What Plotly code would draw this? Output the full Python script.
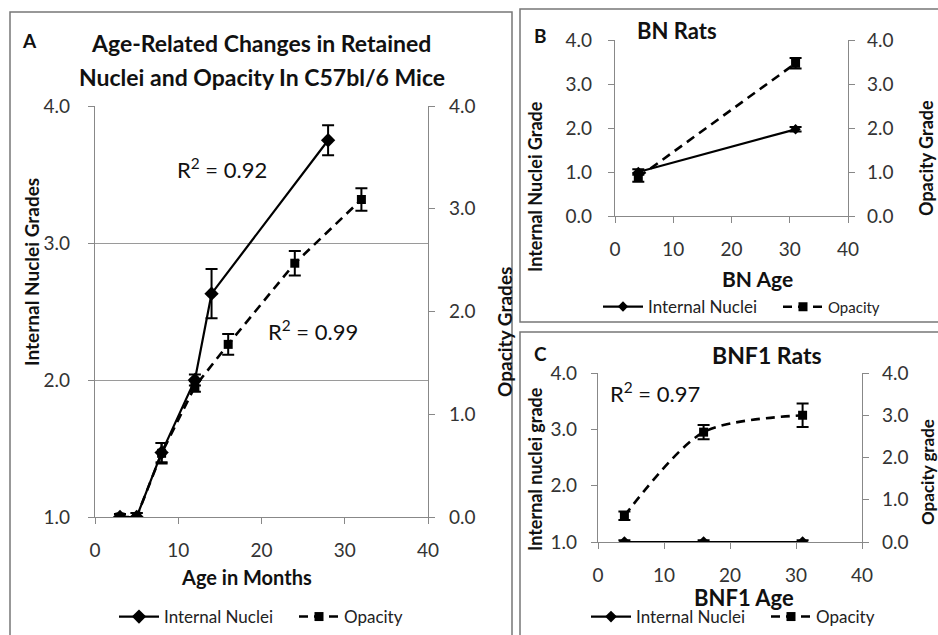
import plotly.graph_objects as go

W, H = 938, 635

# ---------------- data ----------------
# Panel A: C57bl/6 mice
a_age_nuclei = [3, 5, 8, 12, 14, 28]
a_nuclei = [1.0, 1.0, 1.47, 2.0, 2.63, 3.75]
a_nuclei_err = [0.02, 0.03, 0.07, 0.04, 0.18, 0.11]
a_age_opacity = [3, 5, 8, 12, 16, 24, 32]
a_opacity = [0.0, 0.0, 0.62, 1.27, 1.68, 2.47, 3.09]
a_opacity_err = [0.03, 0.04, 0.1, 0.05, 0.1, 0.12, 0.11]

# Panel B: BN rats
b_age = [4, 31]
b_nuclei = [1.0, 1.97]
b_nuclei_err = [0.06, 0.05]
b_opacity = [0.88, 3.47]
b_opacity_err = [0.1, 0.12]

# Panel C: BNF1 rats
c_age = [4, 16, 31]
c_nuclei = [1.0, 1.0, 1.0]
c_nuclei_err = [0.03, 0.03, 0.03]
c_opacity = [0.62, 2.6, 3.0]
c_opacity_err = [0.1, 0.17, 0.28]

y_ticks_left_a = [1.0, 2.0, 3.0, 4.0]
y_ticks_0_4 = [0.0, 1.0, 2.0, 3.0, 4.0]
x_ticks = [0, 10, 20, 30, 40]

FONT = "Lato, 'Open Sans', sans-serif"


def px(x):
    return x / W


def py(y):
    return 1 - y / H


fig = go.Figure()

line_solid = dict(color="black", width=2.2)
line_dash = dict(color="black", width=2.6, dash="9px,6px")


def err(vals):
    return dict(type="data", array=vals, visible=True, color="black", thickness=2, width=6)


# Panel A traces
fig.add_trace(go.Scatter(x=a_age_nuclei, y=a_nuclei, error_y=err(a_nuclei_err),
                         mode="lines+markers", name="Internal Nuclei",
                         line=line_solid, marker=dict(symbol="diamond", size=11, color="black"),
                         xaxis="x", yaxis="y", legend="legend"))
fig.add_trace(go.Scatter(x=a_age_opacity, y=a_opacity, error_y=err(a_opacity_err),
                         mode="lines+markers", name="Opacity",
                         line=line_dash, marker=dict(symbol="square", size=9, color="black"),
                         xaxis="x", yaxis="y2", legend="legend2"))

# Panel B traces
fig.add_trace(go.Scatter(x=b_age, y=b_nuclei, error_y=err(b_nuclei_err),
                         mode="lines+markers", name="Internal Nuclei",
                         line=line_solid, marker=dict(symbol="diamond", size=8, color="black"),
                         xaxis="x2", yaxis="y3", legend="legend3"))
fig.add_trace(go.Scatter(x=b_age, y=b_opacity, error_y=err(b_opacity_err),
                         mode="lines+markers", name="Opacity",
                         line=line_dash, marker=dict(symbol="square", size=9, color="black"),
                         xaxis="x2", yaxis="y4", legend="legend4"))

# Panel C traces
fig.add_trace(go.Scatter(x=c_age, y=c_nuclei, error_y=err(c_nuclei_err),
                         mode="lines+markers", name="Internal Nuclei",
                         line=line_solid, marker=dict(symbol="diamond", size=9, color="black"),
                         xaxis="x3", yaxis="y5", legend="legend5"))
fig.add_trace(go.Scatter(x=c_age, y=c_opacity, error_y=err(c_opacity_err),
                         mode="lines+markers", name="Opacity",
                         line=dict(color="black", width=2.6, dash="9px,6px", shape="spline", smoothing=0.8),
                         marker=dict(symbol="square", size=9, color="black"),
                         xaxis="x3", yaxis="y6", legend="legend6"))

tickfont = dict(family=FONT, size=19, color="#333")
axis_common = dict(showline=True, linecolor="#888", linewidth=1.2, ticks="outside",
                   ticklen=6, tickcolor="#888", tickfont=tickfont, zeroline=False,
                   fixedrange=True, automargin=False)


def xax(d0, d1, anchor):
    return dict(domain=[px(d0), px(d1)], range=[0, 40], tickvals=x_ticks, anchor=anchor,
                showgrid=False, ticklabelstandoff=10, **axis_common)


def yax(d_bottom, d_top, rng, ticks, anchor, side="left", overlaying=None, grid=False, standoff=12):
    d = dict(domain=[py(d_bottom), py(d_top)], range=rng, tickvals=ticks,
             ticktext=[f"{v:.1f}" for v in ticks], anchor=anchor, side=side,
             showgrid=grid, ticklabelstandoff=standoff, **axis_common)
    if grid:
        d.update(gridcolor="#9a9a9a", gridwidth=1)
    if overlaying:
        d["overlaying"] = overlaying
    return d


fig.update_layout(
    # Panel A: x 95-428, y 106-517
    xaxis=xax(95, 428, "y"),
    yaxis=yax(517, 106, [1, 4], y_ticks_left_a, "x", grid=True, standoff=14),
    yaxis2=yax(517, 106, [0, 4], y_ticks_0_4, "x", side="right", overlaying="y", standoff=10),
    # Panel B: x 615-848, y 40-216
    xaxis2=xax(615, 848, "y3"),
    yaxis3=yax(216, 40, [0, 4], y_ticks_0_4, "x2", standoff=12),
    yaxis4=yax(216, 40, [0, 4], y_ticks_0_4, "x2", side="right", overlaying="y3", standoff=8),
    # Panel C: x 598-862, y 373-542
    xaxis3=xax(598, 862, "y5"),
    yaxis5=yax(542, 373, [1, 4], y_ticks_left_a, "x3", standoff=10),
    yaxis6=yax(542, 373, [0, 4], y_ticks_0_4, "x3", side="right", overlaying="y5", standoff=9),
)


def leg(x, y, size=17):
    return dict(orientation="h", x=px(x - 7), y=py(y), xanchor="left", yanchor="middle",
                font=dict(family=FONT, size=size, color="#222"),
                bgcolor="rgba(0,0,0,0)", itemwidth=40)


fig.update_layout(
    legend=leg(121, 617),
    legend2=leg(301, 617),
    legend3=leg(605, 307),
    legend4=leg(785, 307, size=15),
    legend5=leg(593, 617),
    legend6=leg(773, 617),
)

# Panel boxes
box_line = dict(color="#777", width=1.5)
shapes = [
    dict(type="rect", xref="paper", yref="paper", x0=px(10), x1=px(512), y0=py(645), y1=py(12), line=box_line),
    dict(type="rect", xref="paper", yref="paper", x0=px(520), x1=px(950), y0=py(322), y1=py(9), line=box_line),
    dict(type="rect", xref="paper", yref="paper", x0=px(520), x1=px(950), y0=py(645), y1=py(332), line=box_line),
]


def ann(text, x, y, size, bold=False, angle=0, xanchor="center"):
    t = f"<b>{text}</b>" if bold else text
    return dict(text=t, x=px(x), y=py(y), xref="paper", yref="paper", showarrow=False,
                xanchor=xanchor, yanchor="middle", textangle=angle,
                font=dict(family=FONT, size=size, color="#111"))


annotations = [
    ann("A", 29, 40, 19, bold=True),
    ann("Age-Related Changes in Retained", 261, 43, 23, bold=True),
    ann("Nuclei and Opacity In C57bl/6 Mice", 262, 77, 23, bold=True),
    ann("Internal Nuclei Grades", 31, 272, 19, bold=True, angle=-90),
    ann("Opacity Grades", 504, 332, 19, bold=True, angle=-90),
    ann("Age in Months", 247, 577, 20, bold=True),
    ann("R<sup>2</sup> = 0.92", 222, 168, 22),
    ann("R<sup>2</sup> = 0.99", 313, 330, 22),
    ann("B", 540, 35, 19, bold=True),
    ann("BN Rats", 677, 30, 22, bold=True),
    ann("Internal Nuclei Grade", 535, 187, 18, bold=True, angle=-90),
    ann("Opacity Grade", 926, 158, 18, bold=True, angle=-90),
    ann("BN Age", 757, 278, 21, bold=True),
    ann("C", 540, 353, 19, bold=True),
    ann("BNF1 Rats", 767, 355, 23, bold=True),
    ann("Internal nuclei grade", 535, 469, 18, bold=True, angle=-90),
    ann("Opacity grade", 927, 472, 17, bold=True, angle=-90),
    ann("BNF1 Age", 744, 597, 22, bold=True),
    ann("R<sup>2</sup> = 0.97", 655, 392, 22),
]

fig.update_layout(
    width=W, height=H, margin=dict(l=0, r=0, t=0, b=0, autoexpand=False),
    paper_bgcolor="white", plot_bgcolor="white",
    font=dict(family=FONT, color="#111"),
    shapes=shapes, annotations=annotations, showlegend=True,
)

# remove the default 8px page margin so the figure fills the window exactly
fig.write_html("out.html", config={"displayModeBar": False},
               post_script="document.body.style.margin='0';document.body.style.overflow='hidden';")
